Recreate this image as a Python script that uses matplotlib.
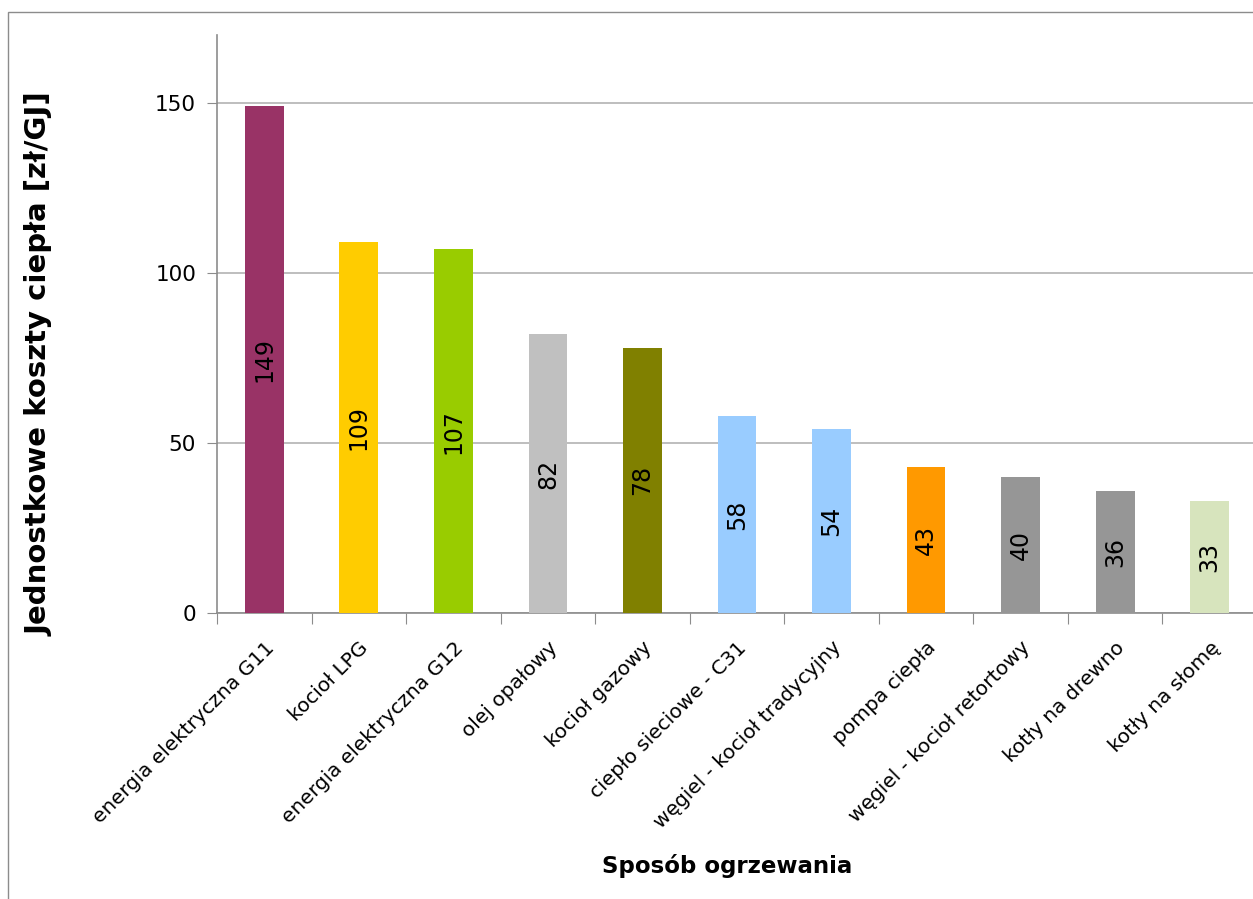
import matplotlib
matplotlib.use("Agg")
import matplotlib.pyplot as plt
from matplotlib.patches import Rectangle
import numpy as np

categories = ["energia elektryczna G11", "kocioł LPG", "energia elektryczna G12",
              "olej opałowy", "kocioł gazowy", "ciepło sieciowe - C31",
              "węgiel - kocioł tradycyjny", "pompa ciepła", "węgiel - kocioł retortowy",
              "kotły na drewno", "kotły na słomę"]
values = [149, 109, 107, 82, 78, 58, 54, 43, 40, 36, 33]
colors = ["#993366", "#FFCC00", "#99CC00", "#C0C0C0", "#808000", "#99CCFF",
          "#99CCFF", "#FF9900", "#969696", "#969696", "#D7E4BD"]
yticks = [0, 50, 100, 150]

W, H = 1253, 899
fig = plt.figure(figsize=(W/100, H/100), dpi=100)
fig.patches.append(Rectangle((8/W, -0.2), 1.2, 1.2 - 12/H, transform=fig.transFigure,
                             fill=False, edgecolor="#8c8c8c", linewidth=1.0))

left, right, top, bottom = 217, 1257, 35, 613
ax = fig.add_axes([left/W, 1 - bottom/H, (right-left)/W, (bottom-top)/H])
x = np.arange(len(categories))
ax.bar(x, values, width=0.41, color=colors, zorder=3)
ax.set_xlim(-0.5, len(categories) - 0.5)
ax.set_ylim(0, 170)
ax.set_yticks(yticks)
ax.set_yticklabels([str(t) for t in yticks], fontsize=15.5)
ax.yaxis.grid(True, color="#b3b3b3", linewidth=1.2, zorder=0)
ax.tick_params(axis="y", length=7, color="#8c8c8c", pad=8)

for s in ["top", "right"]:
    ax.spines[s].set_visible(False)
for s in ["left", "bottom"]:
    ax.spines[s].set_color("#8c8c8c")
    ax.spines[s].set_linewidth(1.2)

ax.set_xticks(np.arange(-0.5, len(categories), 1.0))
ax.set_xticklabels([])
ax.tick_params(axis="x", which="major", length=8, color="#8c8c8c")
ax.set_xticks(x, minor=True)
ax.set_xticklabels(categories, minor=True, rotation=45, ha="right", rotation_mode="anchor",
                   fontsize=14.5)
ax.tick_params(axis="x", which="minor", length=0, pad=18)

for xi, v in zip(x, values):
    ax.text(xi, v/2, str(v), rotation=90, ha="center", va="center", fontsize=17, zorder=4)

fig.text(40/W, 1 - 364/H, "Jednostkowe koszty ciepła [zł/GJ]", rotation=90,
         ha="center", va="center", fontsize=21, fontweight="bold")
fig.text(727/W, 1 - 866/H, "Sposób ogrzewania", ha="center", va="center",
         fontsize=16.5, fontweight="bold")

fig.savefig("out.png", dpi=100)
